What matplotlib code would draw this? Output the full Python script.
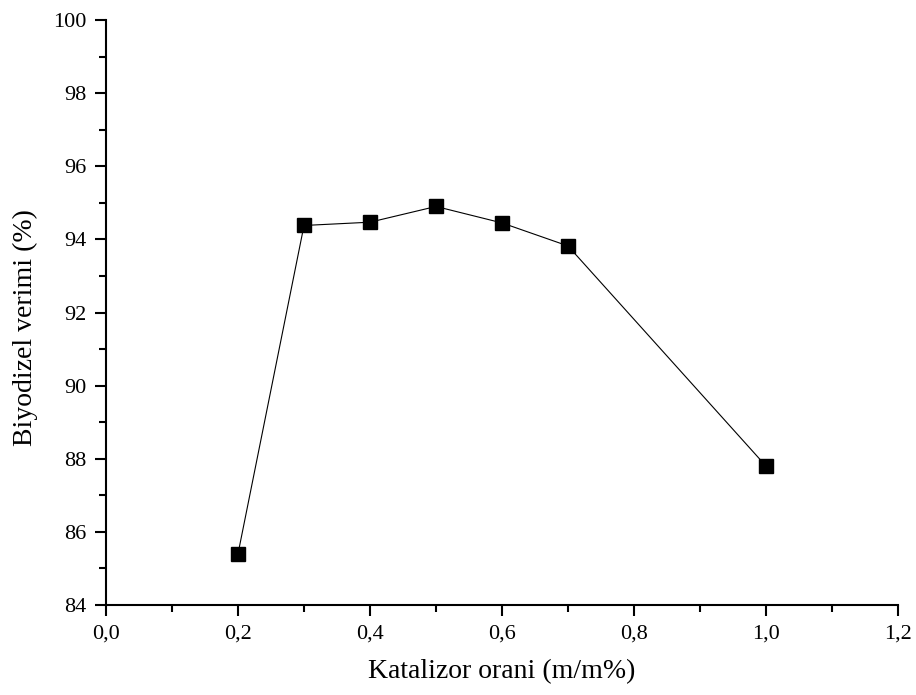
import numpy as np
import matplotlib
matplotlib.use('Agg')
import matplotlib.pyplot as plt
from matplotlib.ticker import MultipleLocator, FuncFormatter

# veriler
katalizor = [0.2, 0.3, 0.4, 0.5, 0.6, 0.7, 1.0]
verim = [85.4, 94.38, 94.47, 94.9, 94.45, 93.82, 87.8]

plt.rcParams['font.family'] = ['Liberation Serif', 'DejaVu Serif']

fig = plt.figure(figsize=(9.16, 6.95), dpi=100)
ax = fig.add_axes([106 / 916, 1 - 605 / 695, (898 - 106) / 916, (605 - 20) / 695])

ax.plot(katalizor, verim, color='black', linewidth=0.8, marker='s',
        markersize=9.5, markerfacecolor='black', markeredgecolor='black')

ax.set_xlim(0, 1.2)
ax.set_ylim(84, 100)
ax.xaxis.set_major_locator(MultipleLocator(0.2))
ax.xaxis.set_minor_locator(MultipleLocator(0.1))
ax.yaxis.set_major_locator(MultipleLocator(2))
ax.yaxis.set_minor_locator(MultipleLocator(1))
ax.xaxis.set_major_formatter(FuncFormatter(lambda v, p: f"{v:.1f}".replace('.', ',')))

for s in ['top', 'right']:
    ax.spines[s].set_visible(False)
for s in ['left', 'bottom']:
    ax.spines[s].set_linewidth(1.5)

ax.tick_params(which='major', direction='out', length=8, width=1.5, labelsize=16, pad=6)
ax.tick_params(which='minor', direction='out', length=5, width=1.5)

ax.set_xlabel("Katalizor orani (m/m%)", fontsize=20, labelpad=11)
ax.set_ylabel("Biyodizel verimi (%)", fontsize=20, labelpad=11, y=0.474)

fig.savefig("out.png", dpi=100)
